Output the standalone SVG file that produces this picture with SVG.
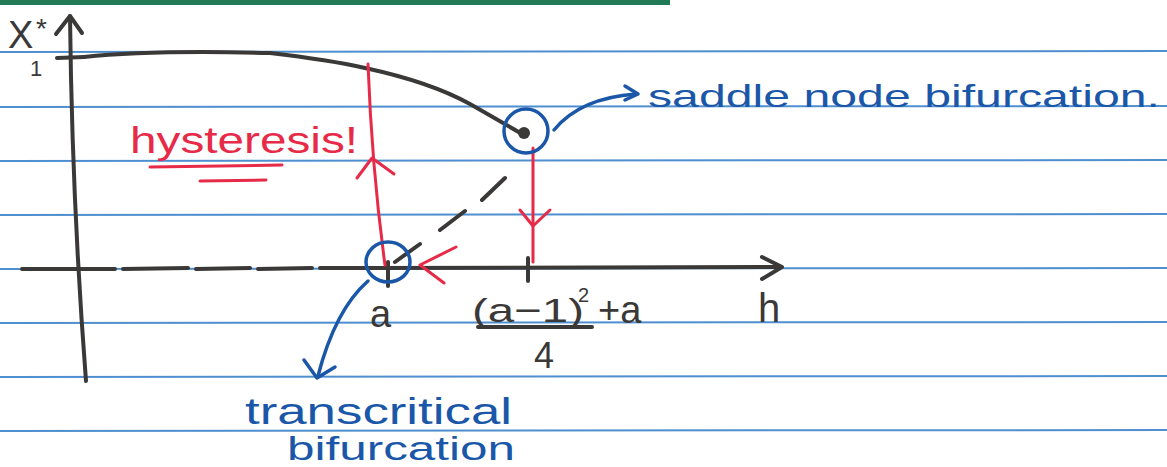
<svg xmlns="http://www.w3.org/2000/svg" width="1167" height="467" viewBox="0 0 1167 467">
<style>
.rule{stroke:#4f8fd0;stroke-width:2;fill:none}
.ink{stroke:#3b3838;stroke-width:4;fill:none;stroke-linecap:round;stroke-linejoin:round}
.red{stroke:#e62a48;stroke-width:3;fill:none;stroke-linecap:round;stroke-linejoin:round}
.blue{stroke:#1b57a8;stroke-width:3.5;fill:none;stroke-linecap:round;stroke-linejoin:round}
.t{font-family:"Liberation Sans",Arial,sans-serif}
.tb{fill:#1b57a8}
.tk{fill:#3b3838}
.tr{fill:#e62a48}
</style>
<rect width="1167" height="467" fill="#ffffff"/>
<g id="paper">
<rect x="0" y="0" width="670" height="5" fill="#1f7a55"/>
<line class="rule" x1="0" y1="52" x2="1167" y2="51"/>
<line class="rule" x1="0" y1="107" x2="1167" y2="106"/>
<line class="rule" x1="0" y1="161" x2="1167" y2="160"/>
<line class="rule" x1="0" y1="215" x2="1167" y2="214"/>
<line class="rule" x1="0" y1="269" x2="1167" y2="268"/>
<line class="rule" x1="0" y1="323" x2="1167" y2="322"/>
<line class="rule" x1="0" y1="377" x2="1167" y2="376"/>
<line class="rule" x1="0" y1="431" x2="1167" y2="430"/>
</g>
<g id="axes">
<path class="ink" d="M70 16 Q72 200 86 381"/>
<path class="ink" d="M56 34 L70 16 L82 33"/>
<path class="ink" d="M22 269 L115 269 M123 269 L188 268 M196 269 L250 268 M258 269 L312 268 M320 268 L372 268" stroke-width="3.5"/>
<path class="ink" d="M372 268 L780 267"/>
<path class="ink" d="M762 257 L782 267 L762 279"/>
<line class="ink" x1="57" y1="58" x2="84" y2="57"/>
<line class="ink" x1="388" y1="262" x2="388" y2="286"/>
<line class="ink" x1="528" y1="258" x2="528" y2="281"/>
</g>
<g id="branches">
<path class="ink" d="M84 57 Q150 50 270 53 Q330 60 365 68"/>
<path class="ink" d="M365 68 Q430 82 470 104 Q505 124 522 134" stroke="#4a3434" stroke-width="5"/>
<path class="ink" d="M395 262 L420 244 M440 230 L465 211 M482 200 L505 178" stroke="#7a7878"/>
<circle cx="524" cy="133" r="6" fill="#3b3838"/>
</g>
<g id="hysteresis-loop">
<path class="red" d="M368 64 Q372 170 385 265"/>
<path class="red" d="M357 178 L372 158 L394 174"/>
<path class="red" d="M533 148 L533 262"/>
<path class="red" d="M520 210 L533 226 L550 210"/>
<path class="red" d="M456 247 L420 265 L444 283"/>
</g>
<g id="transcritical-node">
<ellipse class="blue" cx="388" cy="262" rx="22" ry="20"/>
<path class="blue" d="M368 281 Q335 310 318 376"/>
<path class="blue" d="M304 360 L317 378 L335 367"/>
<text class="t tb" x="245" y="424" font-size="36" textLength="267" lengthAdjust="spacingAndGlyphs">transcritical</text>
<text class="t tb" x="287" y="460" font-size="34" textLength="228" lengthAdjust="spacingAndGlyphs">bifurcation</text>
</g>
<g id="saddle-node">
<circle class="blue" cx="526" cy="131" r="22"/>
<path class="blue" d="M554 130 Q580 98 636 94"/>
<path class="blue" d="M625 86 L638 94 L625 100"/>
<text class="t tb" x="648" y="107" font-size="32" textLength="512" lengthAdjust="spacingAndGlyphs">saddle node bifurcation.</text>
</g>
<g id="labels">
<text class="t tk" x="8" y="48" font-size="38">X</text>
<text class="t tk" x="36" y="38" font-size="28">*</text>
<text class="t tk" x="30" y="76" font-size="22">1</text>
<text class="t tr" x="130" y="153" font-size="36" textLength="228" lengthAdjust="spacingAndGlyphs">hysteresis!</text>
<path class="red" d="M150 167 L282 165 M200 181 L266 180" stroke-width="4"/>
<text class="t tk" x="370" y="327" font-size="38">a</text>
<text class="t tk" x="472" y="322" font-size="34" textLength="112" lengthAdjust="spacingAndGlyphs">(a−1)</text>
<text class="t tk" x="578" y="302" font-size="20">2</text>
<text class="t tk" x="598" y="323" font-size="38">+a</text>
<line class="ink" x1="478" y1="327" x2="592" y2="327" stroke-width="3"/>
<text class="t tk" x="534" y="368" font-size="36">4</text>
<text class="t tk" x="758" y="322" font-size="40">h</text>
</g>
</svg>
